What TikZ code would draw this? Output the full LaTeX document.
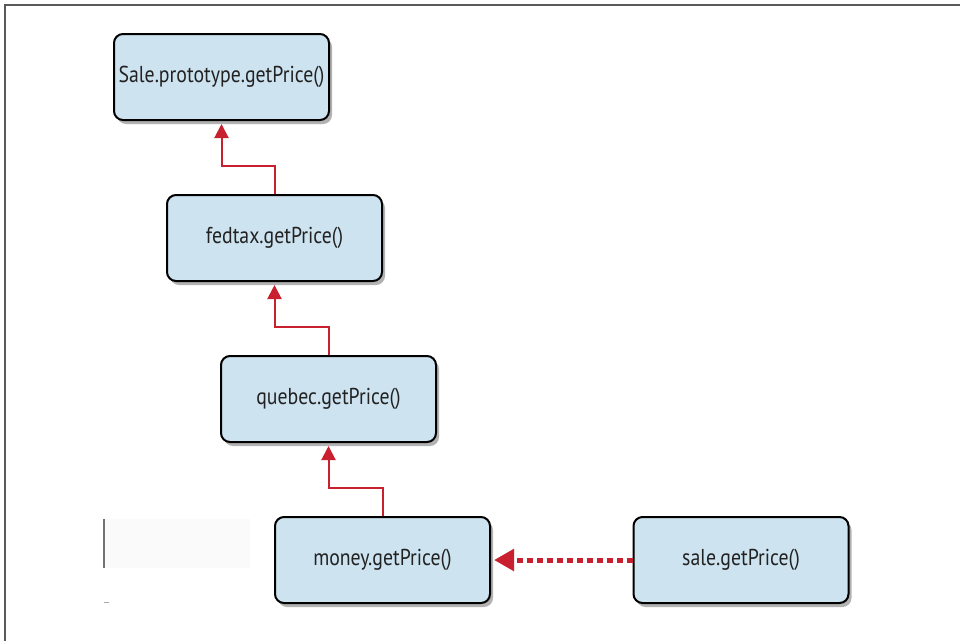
\documentclass[tikz,border=0pt]{standalone}
\usepackage{fontspec}
\setmainfont{PT Sans}[FakeStretch=0.86]
\usetikzlibrary{arrows.meta,shadows,calc}
\definecolor{boxfill}{HTML}{CDE3F0}
\definecolor{arrred}{HTML}{C8202F}
\definecolor{txt}{HTML}{222222}
\tikzset{
  methodbox/.style={draw=black, line width=2pt, fill=boxfill, rounded corners=9pt,
    minimum width=215pt, minimum height=86pt, inner sep=0pt,
    font=\fontsize{23}{26}\selectfont, text=txt,
    drop shadow={shadow xshift=3pt, shadow yshift=-4pt, opacity=0.3, fill=black}},
  protoarrow/.style={draw=arrred, line width=2pt, -{Triangle[length=14pt,width=14pt]}},
  linkarrow/.style={draw=arrred, line width=5pt, dash pattern=on 6pt off 4pt,
    -{Triangle[length=20pt,width=21pt]}},
}
\begin{document}
\begin{tikzpicture}[x=1pt,y=-1pt]
\useasboundingbox (0,0) rectangle (960,641);
\fill[white] (0,0) rectangle (960,641);
% frame
\draw[line width=1.5pt, draw=black!65] (5,641) -- (5,5) -- (960,5);
% stray marks at left
\fill[black!2] (104,519) rectangle (250,568);
\draw[line width=1.2pt, draw=black!55] (104,519) -- (104,568);
\draw[line width=1pt, draw=black!35] (104,602) -- (109,602);
% nodes
\node[methodbox] (proto) at (221.5,77) {Sale.prototype.getPrice()};
\node[methodbox] (fedtax) at (274.5,238) {fedtax.getPrice()};
\node[methodbox] (quebec) at (328.5,399) {quebec.getPrice()};
\node[methodbox] (money) at (382.5,560) {money.getPrice()};
\node[methodbox] (sale) at (741,560) {sale.getPrice()};
% connectors
\draw[protoarrow] (fedtax.north) -- ++(0,-28) -| ([yshift=-3pt]proto.south);
\draw[protoarrow] (quebec.north) -- ++(0,-28) -| ([yshift=-3pt]fedtax.south);
\draw[protoarrow] (money.north) -- ++(0,-28) -| ([yshift=-3pt]quebec.south);
\draw[linkarrow] (sale.west) -- ([xshift=3pt]money.east);
\end{tikzpicture}
\end{document}
